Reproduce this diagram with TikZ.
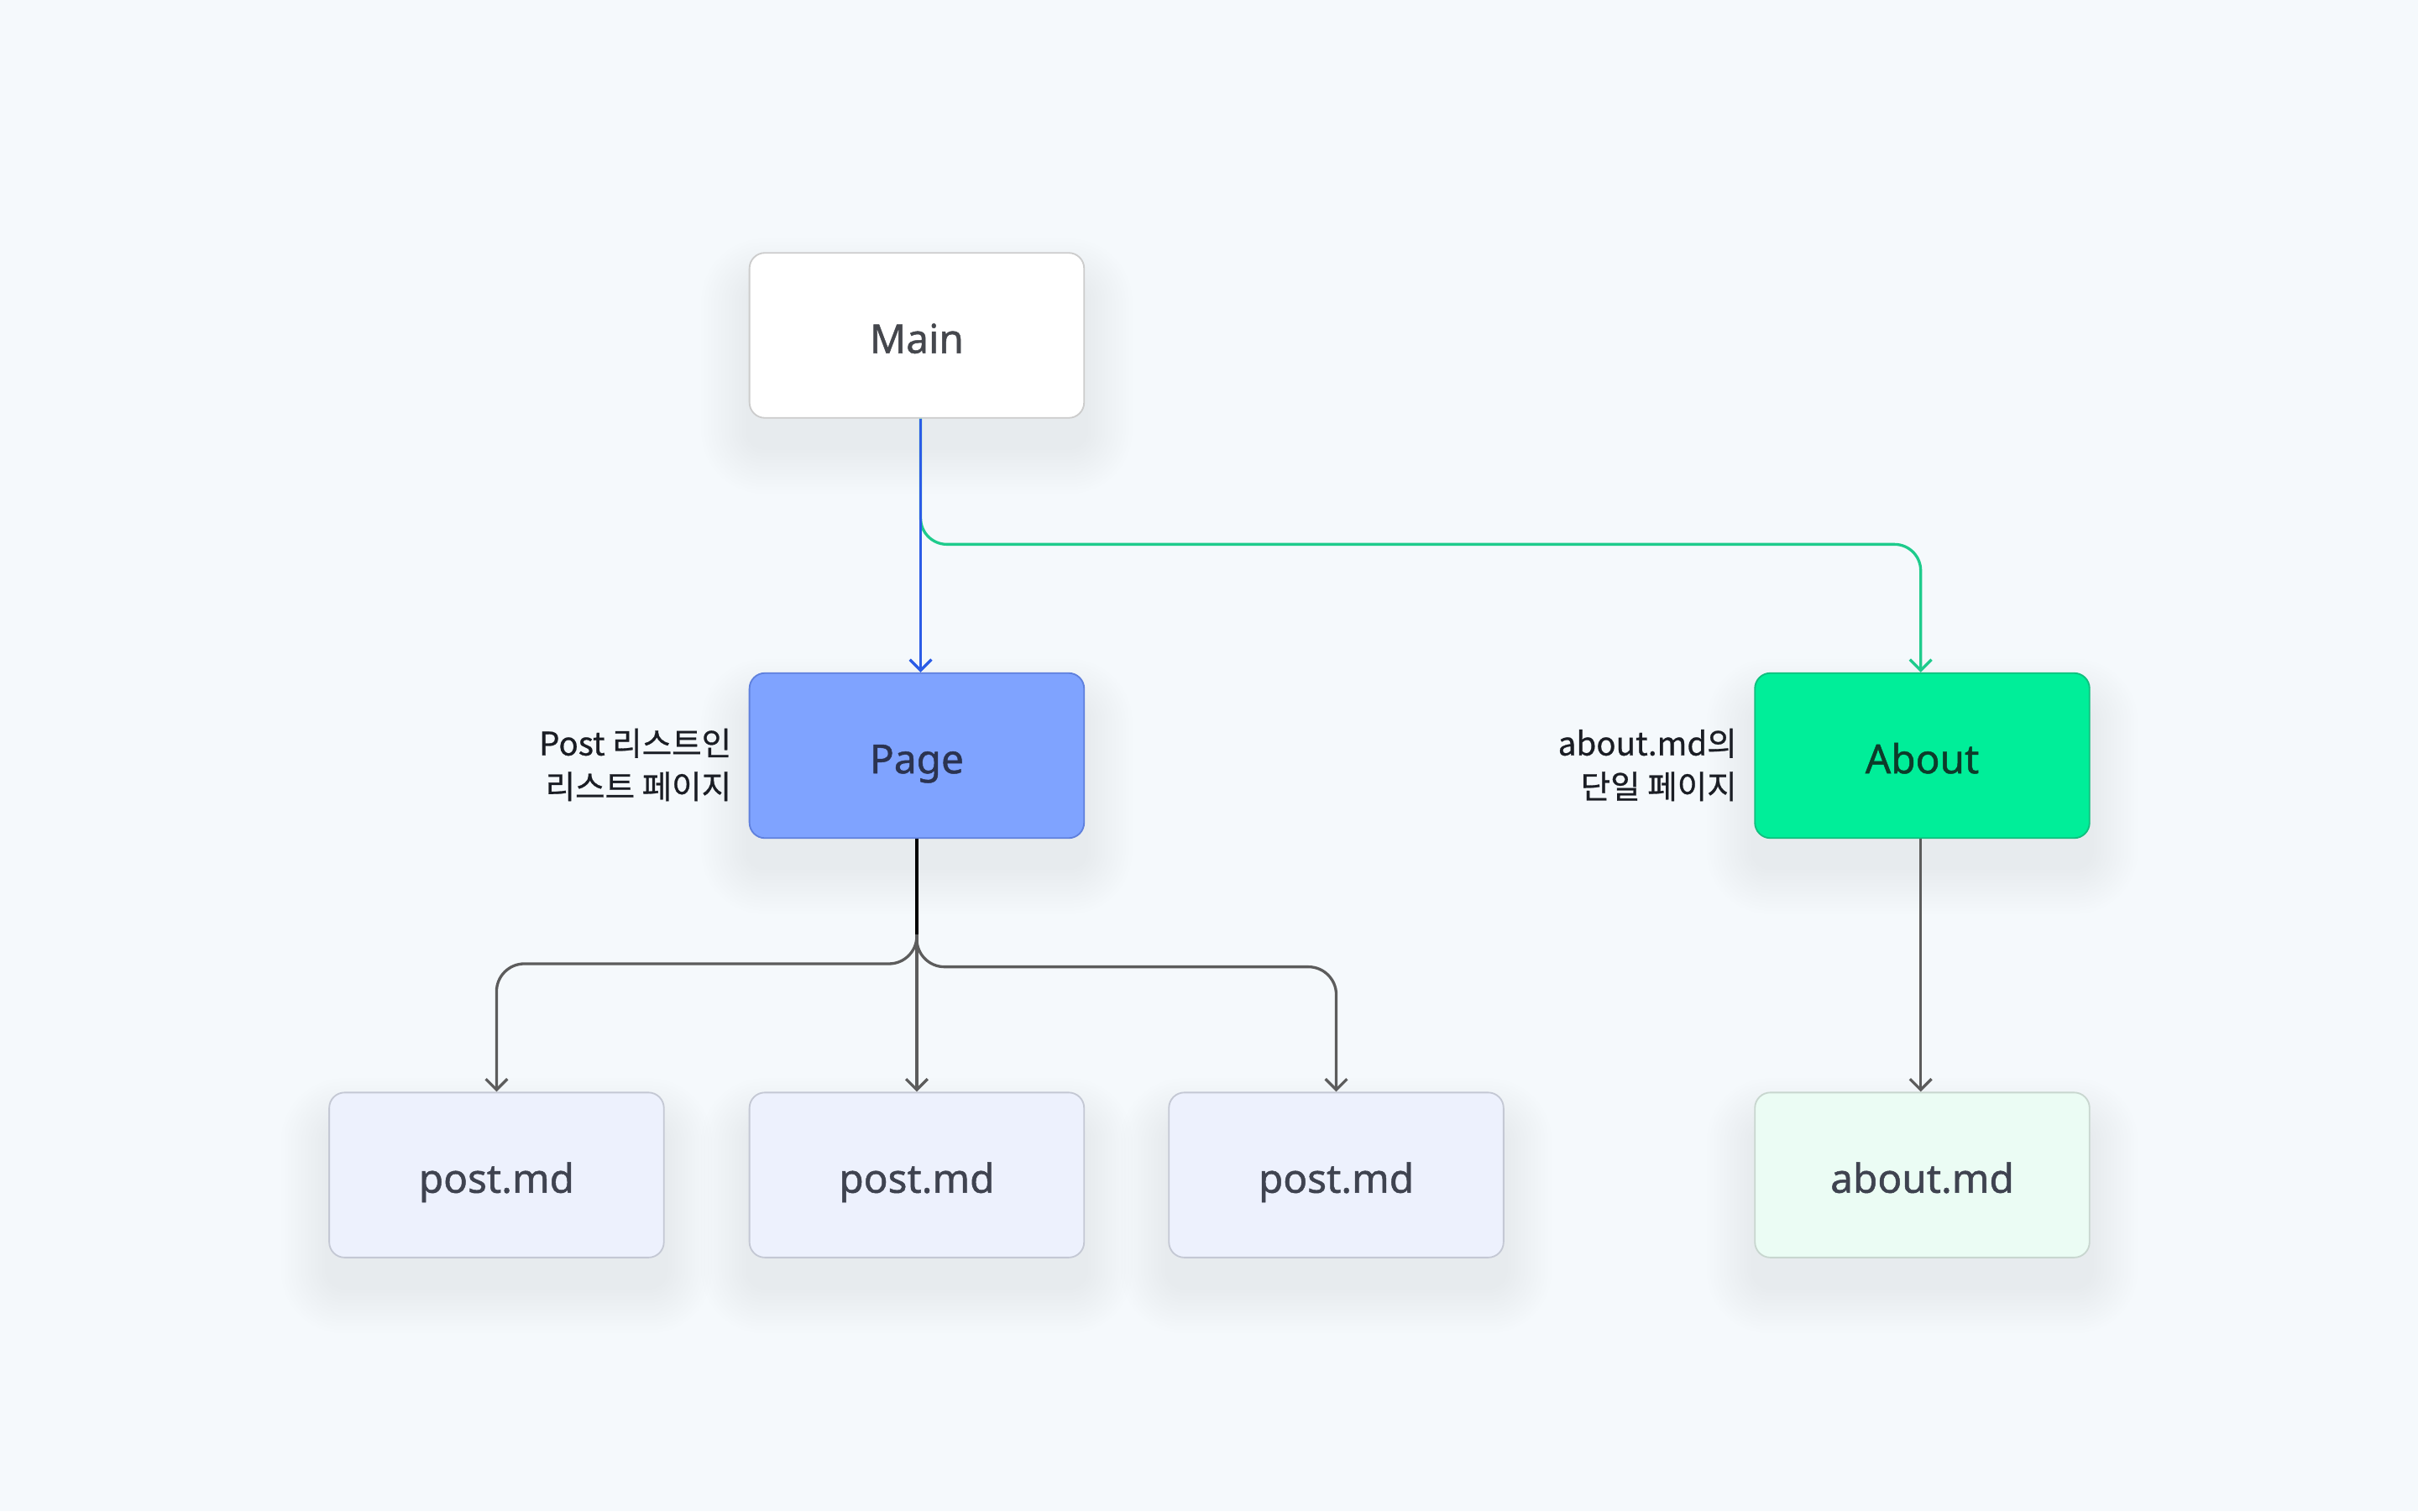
\documentclass[tikz,border=0pt]{standalone}
\usepackage{fontspec}
\setmainfont{Noto Sans}
\newfontfamily\nodefont{Noto Sans}[FakeBold=1.0]
\newfontfamily\kr{Noto Sans CJK KR}[FakeBold=0.7]
\usetikzlibrary{arrows.meta,calc,backgrounds}
\definecolor{bg}{HTML}{F5F9FC}
\definecolor{mainbd}{HTML}{CCCCCC}
\definecolor{maintx}{HTML}{45474D}
\definecolor{pagefill}{HTML}{7FA3FF}
\definecolor{pagebd}{HTML}{5F80DD}
\definecolor{pagetx}{HTML}{2B3350}
\definecolor{aboutfill}{HTML}{00EE99}
\definecolor{aboutbd}{HTML}{10BF7E}
\definecolor{abouttx}{HTML}{0D3B2A}
\definecolor{postfill}{HTML}{EDF1FD}
\definecolor{postbd}{HTML}{C4C8D4}
\definecolor{posttx}{HTML}{3F4350}
\definecolor{amdfill}{HTML}{EBFCF4}
\definecolor{amdbd}{HTML}{C8D6CF}
\definecolor{bluec}{HTML}{2B5CE6}
\definecolor{greenc}{HTML}{1ECB8C}
\definecolor{grayc}{HTML}{5C5C5C}
\definecolor{lbltx}{HTML}{1A1D24}
\definecolor{shadowc}{HTML}{6B7280}
\begin{document}
\begin{tikzpicture}[x=1pt,y=-1pt,
  box/.style={rounded corners=10pt, minimum width=217pt, minimum height=107pt,
    draw, line width=1pt, inner sep=0pt, text height=23pt, text depth=0pt,
    font=\nodefont\fontsize{26}{30}\selectfont},
  mainbox/.style={box, fill=white, draw=mainbd, text=maintx},
  pagebox/.style={box, fill=pagefill, draw=pagebd, text=pagetx},
  aboutbox/.style={box, fill=aboutfill, draw=aboutbd, text=abouttx},
  postbox/.style={box, fill=postfill, draw=postbd, text=posttx},
  amdbox/.style={box, fill=amdfill, draw=amdbd, text=posttx},
  lbl/.style={anchor=east, align=right, text=lbltx, inner sep=0pt, font=\kr\fontsize{21}{28}\selectfont},
  arr/.style={-{Straight Barb[length=7pt,width=14pt]}, line width=1.8pt},
  blueline/.style={arr, draw=bluec},
  greenline/.style={arr, draw=greenc, rounded corners=17pt},
  grayline/.style={arr, draw=grayc},
]
\node[mainbox] (main) at (594.5,217.5) {Main};
\node[pagebox] (page) at (594.5,490) {Page};
\node[aboutbox] (about) at (1246.5,490) {About};
\node[postbox] (post1) at (322,762) {post.md};
\node[postbox] (post2) at (594.5,762) {post.md};
\node[postbox] (post3) at (866.5,762) {post.md};
\node[amdbox] (amd) at (1246.5,762) {about.md};

\begin{scope}[on background layer]
\fill[bg] (0,0) rectangle (1568,980);
\foreach \n in {main,page,about,post1,post2,post3,amd} {
  \foreach \i in {1,...,14} {
    \fill[shadowc, opacity=0.0045, rounded corners=10pt+2.2*\i pt]
      ($(\n.north west)+(-2.2*\i,-2.2*\i+22)$) rectangle ($(\n.south east)+(2.2*\i,2.2*\i+18)$);
  }
}
\end{scope}
\useasboundingbox (0,0) rectangle (1568,980);

\node[lbl] (lpage) at ([xshift=-11pt,yshift=-6pt]page.west) {Post 리스트인\\리스트 페이지};
\node[lbl] (labout) at ([xshift=-11pt,yshift=-6pt]about.west) {about.md의\\단일 페이지};

\coordinate (ms) at ([xshift=2.5pt]main.south);
\coordinate (pn) at ([xshift=2.5pt]page.north);
\coordinate (an) at ([xshift=-1pt]about.north);
\coordinate (gy) at (0,353);
\coordinate (fy) at (0,625);
\coordinate (fy2) at (0,627);

\draw[greenline] (ms) -- (ms |- gy) -- (an |- gy) -- (an);
\draw[blueline] (ms) -- (pn);

\draw[grayline, rounded corners=18pt] (page.south) -- (page.south |- fy) -- (post1.north |- fy) -- (post1.north);
\draw[grayline, rounded corners=18pt] (page.south) -- (page.south |- fy2) -- (post3.north |- fy2) -- (post3.north);
\draw[grayline] (page.south) -- (post2.north);
\draw[line width=1.8pt, black] (page.south) -- ++(0,62);

\draw[grayline] ([xshift=-1pt]about.south) -- ([xshift=-1pt]amd.north);
\end{tikzpicture}
\end{document}
